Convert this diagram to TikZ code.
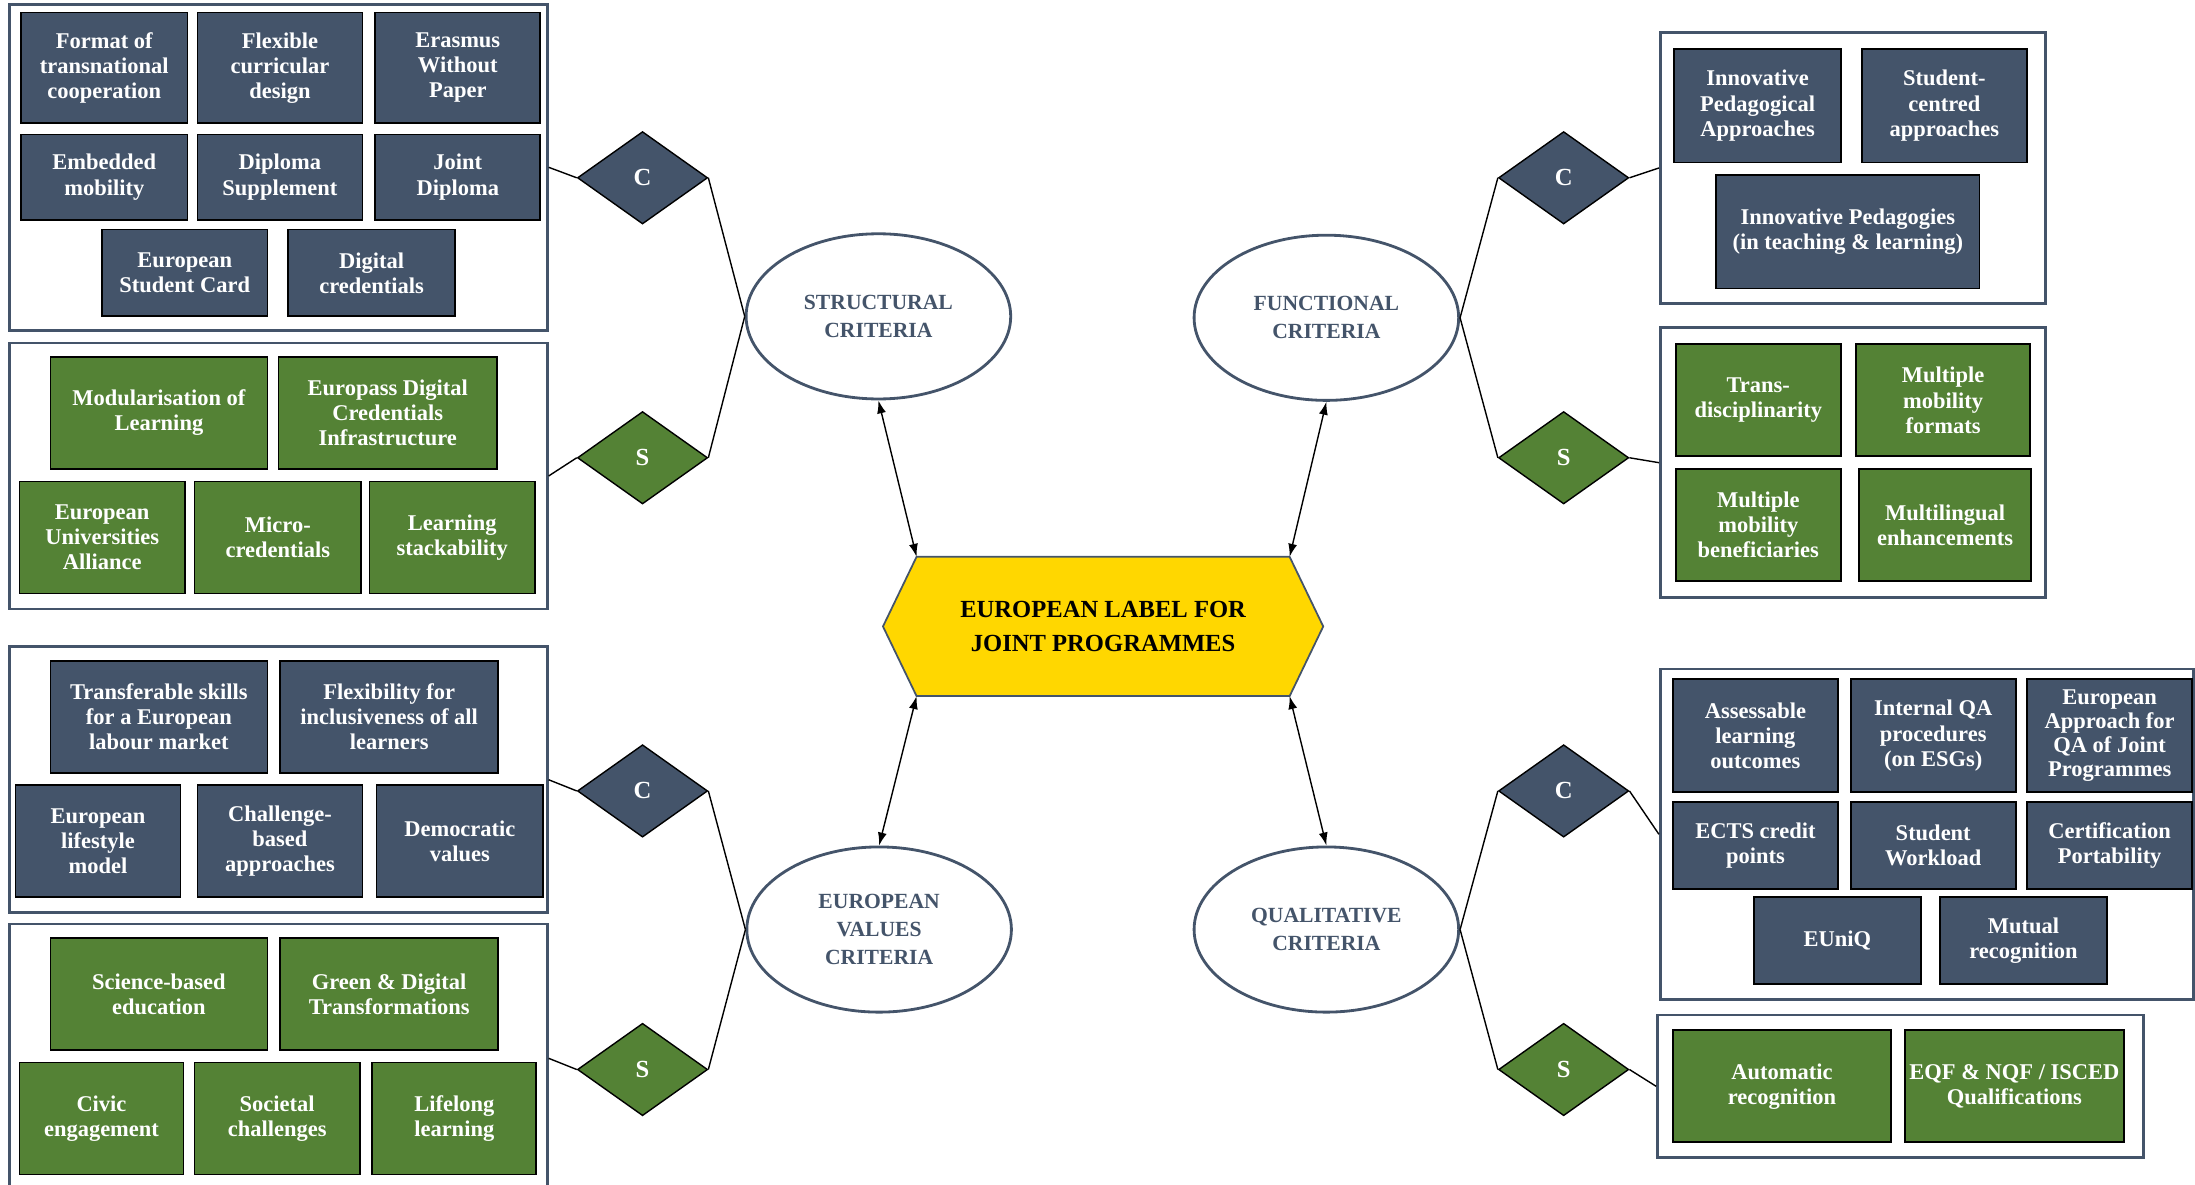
\documentclass[tikz,border=0pt]{standalone}
\usepackage{fontspec}
\setmainfont{Liberation Serif}
\usepackage{tikz}
\usetikzlibrary{arrows.meta, positioning, backgrounds, fit, shapes.geometric, calc}
\definecolor{navy}{HTML}{44546A}
\definecolor{leaf}{HTML}{548235}
\definecolor{gold}{HTML}{FFD700}
\tikzset{%
	sz/.style 2 args={minimum width=#1*0.028cm, minimum height=#2*0.028cm},
	item/.style={draw=black, line width=1pt, rectangle, inner sep=1pt, align=center,%
		text=white, font=\bfseries\fontsize{12.8}{14.3}\selectfont},
	cbox/.style={item, fill=navy},
	sbox/.style={item, fill=leaf},
	panel/.style={draw=navy, line width=1.5pt, inner sep=0pt, rectangle},
	dia/.style={draw=black, line width=0.8pt, diamond, inner sep=0pt, sz={93}{66},%
		text=white, font=\bfseries\fontsize{14}{15}\selectfont},
	cdia/.style={dia, fill=navy},
	sdia/.style={dia, fill=leaf},
	crit/.style={draw=navy, line width=1.6pt, ellipse, fill=white, sz={189}{118}, inner sep=0pt,%
		align=center, text=navy, font=\bfseries\fontsize{12.3}{16}\selectfont},
	connector/.style={line width=0.8pt},
	sel/.style={{Latex[length=2.6mm,width=1.8mm]}-{Latex[length=2.6mm,width=1.8mm]}, line width=0.8pt}
}
\begin{document}
\begin{tikzpicture}[x=0.028cm, y=-0.028cm]
	\useasboundingbox (0,0) rectangle (1568,846);

	\node[panel, fit={(7,3) (391,236)}]       (pstc) {};
	\node[panel, fit={(7,245) (391,435)}]     (psts) {};
	\node[panel, fit={(1186,23) (1461,217)}]  (pfnc) {};
	\node[panel, fit={(1186,234) (1461,427)}] (pfns) {};
	\node[panel, fit={(7,462) (391,652)}]     (pvlc) {};
	\node[panel, fit={(7,660) (391,852)}]     (pvls) {};
	\node[panel, fit={(1186,478) (1567,714)}] (pqlc) {};
	\node[panel, fit={(1184,725) (1531,827)}] (pqls) {};

	\node[cbox, sz={119}{79}] (fmt)    at (74.5,48.5)  {Format of\\transnational\\cooperation};
	\node[cbox, sz={118}{79}] (flex)   at (200,48.5)   {Flexible\\curricular\\design};
	\node[cbox, sz={118}{79}] (ewp)    at (327,48.5)   {Erasmus\\Without\\Paper};
	\node[cbox, sz={119}{61}] (emb)    at (74.5,126.5) {Embedded\\mobility};
	\node[cbox, sz={118}{61}] (dsup)   at (200,126.5)  {Diploma\\Supplement};
	\node[cbox, sz={118}{61}] (jdip)   at (327,126.5)  {Joint\\Diploma};
	\node[cbox, sz={118}{62}] (esc)    at (132,195)    {European\\Student Card};
	\node[cbox, sz={119}{62}] (dcred)  at (265.5,195)  {Digital\\credentials};

	\node[sbox, sz={155}{80}] (modl)   at (113.5,295)  {Modularisation of\\Learning};
	\node[sbox, sz={156}{80}] (edci)   at (277,295)    {Europass Digital\\Credentials\\Infrastructure};
	\node[sbox, sz={118}{80}] (eua)    at (73,384)     {European\\Universities\\Alliance};
	\node[sbox, sz={119}{80}] (micro)  at (198.5,384)  {Micro-\\credentials};
	\node[sbox, sz={118}{80}] (stack)  at (323,384)    {Learning\\stackability};

	\node[cbox, sz={119}{81}] (ipa)    at (1255.5,75.5) {Innovative\\Pedagogical\\Approaches};
	\node[cbox, sz={118}{81}] (stcen)  at (1389,75.5)   {Student-\\centred\\approaches};
	\node[cbox, sz={188}{81}] (ipeda)  at (1320,165.5)  {Innovative Pedagogies\\(in teaching \& learning)};

	\node[sbox, sz={118}{80}] (trans)  at (1256,286)   {Trans-\\disciplinarity};
	\node[sbox, sz={124}{80}] (mmf)    at (1388,286)   {Multiple\\mobility\\formats};
	\node[sbox, sz={118}{80}] (mmb)    at (1256,375)   {Multiple\\mobility\\beneficiaries};
	\node[sbox, sz={123}{80}] (mling)  at (1389.5,375) {Multilingual\\enhancements};

	\node[cbox, sz={155}{80}] (tskill) at (113.5,512)  {Transferable skills\\for a European\\labour market};
	\node[cbox, sz={156}{80}] (flexi)  at (278,512)    {Flexibility for\\inclusiveness of all\\learners};
	\node[cbox, sz={118}{80}] (elife)  at (70,601)     {European\\lifestyle\\model};
	\node[cbox, sz={118}{80}] (chall)  at (200,601)    {Challenge-\\based\\approaches};
	\node[cbox, sz={119}{80}] (demo)   at (328.5,601)  {Democratic\\values};

	\node[sbox, sz={155}{80}] (scied)  at (113.5,710)  {Science-based\\education};
	\node[sbox, sz={156}{80}] (gdt)    at (278,710)    {Green \& Digital\\Transformations};
	\node[sbox, sz={117}{80}] (civic)  at (72.5,799)   {Civic\\engagement};
	\node[sbox, sz={118}{80}] (soc)    at (198,799)    {Societal\\challenges};
	\node[sbox, sz={117}{80}] (life)   at (324.5,799)  {Lifelong\\learning};

	\node[cbox, sz={118}{81}] (alo)    at (1254,525.5) {Assessable\\learning\\outcomes};
	\node[cbox, sz={118}{81}] (iqa)    at (1381,525.5) {Internal QA\\procedures\\(on ESGs)};
	\node[cbox, sz={118}{81}, font=\bfseries\fontsize{12.8}{13.6}\selectfont] (eaqa) at (1507,525.5) {European\\Approach for\\QA of Joint\\Programmes};
	\node[cbox, sz={118}{62}] (ects)   at (1254,604)   {ECTS credit\\points};
	\node[cbox, sz={118}{62}] (swl)    at (1381,604)   {Student\\Workload};
	\node[cbox, sz={118}{62}] (cport)  at (1507,604)   {Certification\\Portability};
	\node[cbox, sz={119}{62}] (euniq)  at (1312.5,672) {EUniQ};
	\node[cbox, sz={119}{62}] (mutual) at (1445.5,672) {Mutual\\recognition};

	\node[sbox, sz={156}{80}] (autor)  at (1273,776)   {Automatic\\recognition};
	\node[sbox, sz={156}{80}] (eqf)    at (1439,776)   {EQF \& NQF / ISCED\\Qualifications};

	\node[cdia] (dstc) at (459,127)  {C};
	\node[sdia] (dsts) at (459,327)  {S};
	\node[cdia] (dfnc) at (1117,127) {C};
	\node[sdia] (dfns) at (1117,327) {S};
	\node[cdia] (dvlc) at (459,565)  {C};
	\node[sdia] (dvls) at (459,764)  {S};
	\node[cdia] (dqlc) at (1117,565) {C};
	\node[sdia] (dqls) at (1117,764) {S};

	\node[crit] (stru) at (627.5,226) {STRUCTURAL\\CRITERIA};
	\node[crit] (func) at (947.5,227) {FUNCTIONAL\\CRITERIA};
	\node[crit] (val)  at (628,664)   {EUROPEAN\\VALUES\\CRITERIA};
	\node[crit] (qual) at (947.5,664) {QUALITATIVE\\CRITERIA};

	\node[sz={266}{99}, inner sep=0pt, align=center, font=\bfseries\fontsize{14}{19}\selectfont] (hex) at (788,447.5) {EUROPEAN LABEL FOR\\JOINT PROGRAMMES};
	\begin{scope}[on background layer]
		\filldraw[fill=gold, draw=navy, line width=1pt] (hex.north west) -- (hex.north east) -- ($(hex.east)+(24,0)$)
			-- (hex.south east) -- (hex.south west) -- ($(hex.west)+(-24,0)$) -- cycle;
	\end{scope}

	\draw[connector] (pstc.east) to (dstc.west);
	\draw[connector] (psts.east) to (dsts.west);
	\draw[connector] (dstc.east) to (stru.west);
	\draw[connector] (dsts.east) to (stru.west);
	\draw[connector] (pvlc.east) to (dvlc.west);
	\draw[connector] (pvls.east) to (dvls.west);
	\draw[connector] (dvlc.east) to (val.west);
	\draw[connector] (dvls.east) to (val.west);
	\draw[connector] (func.east) to (dfnc.west);
	\draw[connector] (func.east) to (dfns.west);
	\draw[connector] (dfnc.east) to (pfnc.west);
	\draw[connector] (dfns.east) to (pfns.west);
	\draw[connector] (qual.east) to (dqlc.west);
	\draw[connector] (qual.east) to (dqls.west);
	\draw[connector] (dqlc.east) to (pqlc.west);
	\draw[connector] (dqls.east) to (pqls.west);

	\draw[sel] (stru.south) to (hex.north west);
	\draw[sel] (func.south) to (hex.north east);
	\draw[sel] (hex.south west) to (val.north);
	\draw[sel] (hex.south east) to (qual.north);
\end{tikzpicture}
\end{document}
